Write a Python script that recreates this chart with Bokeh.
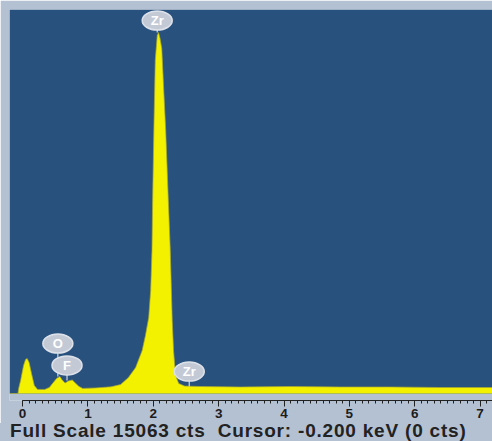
from bokeh.plotting import figure
from bokeh.models import Range1d, BoxAnnotation, SingleIntervalTicker, Div
from bokeh.layouts import column
from bokeh.core.properties import value
from bokeh.embed import file_html
from bokeh.resources import INLINE

# ---- data ----
energy_kev = [-0.20, -0.07, -0.06, -0.03, 0.015, 0.045, 0.07, 0.10, 0.14, 0.18,
              0.23, 0.34, 0.41, 0.47, 0.52, 0.57, 0.60, 0.65, 0.70, 0.76,
              0.80, 0.86, 0.92, 1.12, 1.35, 1.50, 1.62, 1.73, 1.83, 1.88,
              1.93, 1.96, 1.98, 1.99, 2.01, 2.03, 2.06, 2.08, 2.10, 2.13,
              2.16, 2.19, 2.23, 2.26, 2.29, 2.31, 2.34, 2.39, 2.48, 2.72,
              3.33, 4.10, 4.86, 5.63, 6.39, 7.19]
counts = [0, 0, 200, 510, 1100, 1330, 1370, 1220, 750, 310,
          160, 160, 240, 430, 590, 670, 550, 410, 490, 530,
          430, 280, 200, 220, 260, 350, 630, 1020, 1690, 2280,
          2980, 4040, 5610, 7570, 10510, 13060, 14040, 14160, 13970, 13530,
          11890, 10320, 7570, 5610, 2860, 1690, 710, 390, 290, 275,
          255, 275, 255, 255, 235, 235]

full_scale = 15063
x_start, x_end = -0.20, 7.19

label_names = ["Zr", "O", "F", "Zr"]
label_x = [2.06, 0.54, 0.68, 2.55]
label_y = [14630, 1960, 1100, 860]
stem_end_y = [14160, 670, 510, 275]

footer = "Full Scale 15063 cts  Cursor: -0.200 keV (0 cts)"

# ---- styling ----
BLUE = "#28517e"
GREY = "#b3c1d3"
YELLOW = "#f3f000"

y_bottom = -full_scale * 7 / 384

p = figure(width=492, height=423,
           x_range=Range1d(x_start, x_end),
           y_range=Range1d(y_bottom, full_scale),
           y_axis_location=None,
           output_backend="svg", toolbar_location=None,
           min_border_left=9, min_border_top=9,
           min_border_right=0, min_border_bottom=23)

p.background_fill_color = GREY
p.border_fill_color = GREY
p.outline_line_color = None
p.grid.visible = False

p.add_layout(BoxAnnotation(bottom=0, fill_color=BLUE, fill_alpha=1.0,
                           line_color=None, level="underlay"))

p.varea(x=energy_kev, y1=0, y2=counts, fill_color=YELLOW)
p.line(energy_kev, counts, line_color="#a8a830", line_width=1, line_alpha=0.7)

# element labels
p.segment(x0=label_x, y0=label_y, x1=label_x, y1=stem_end_y,
          line_color="#d3d9e2", line_width=1.2)
p.ellipse(x=label_x, y=label_y, width=30, height=19,
          width_units="screen", height_units="screen",
          fill_color="#c3cad6", line_color="#dde2ea", line_width=1.5)
p.text(x=label_x, y=label_y, text=label_names,
       text_align="center", text_baseline="middle",
       text_color="white", text_font_size=value("13px"),
       text_font=value("Liberation Sans"), text_font_style="bold")

# x axis
ax = p.xaxis[0]
ax.ticker = SingleIntervalTicker(interval=1, num_minor_ticks=10)
ax.bounds = (0, x_end)
ax.axis_line_color = "#222222"
ax.major_tick_line_color = "#222222"
ax.minor_tick_line_color = "#222222"
ax.major_tick_in = 0
ax.major_tick_out = 6
ax.minor_tick_in = 0
ax.minor_tick_out = 3
ax.major_label_standoff = 2
ax.major_label_text_font = "Liberation Sans"
ax.major_label_text_font_size = "13.5px"
ax.major_label_text_font_style = "bold"
ax.major_label_text_color = "#1c1c1c"

footer_div = Div(text=footer, width=492, height=18, margin=(0, 0, 0, 0),
                 styles={"background-color": GREY,
                         "font-family": "Liberation Sans",
                         "font-weight": "bold",
                         "font-size": "19px",
                         "letter-spacing": "0.8px",
                         "line-height": "15px",
                         "color": "#222222",
                         "white-space": "pre",
                         "text-indent": "10px"})

layout = column(p, footer_div, spacing=0)

open("out.html", "w").write(file_html(layout, INLINE))
